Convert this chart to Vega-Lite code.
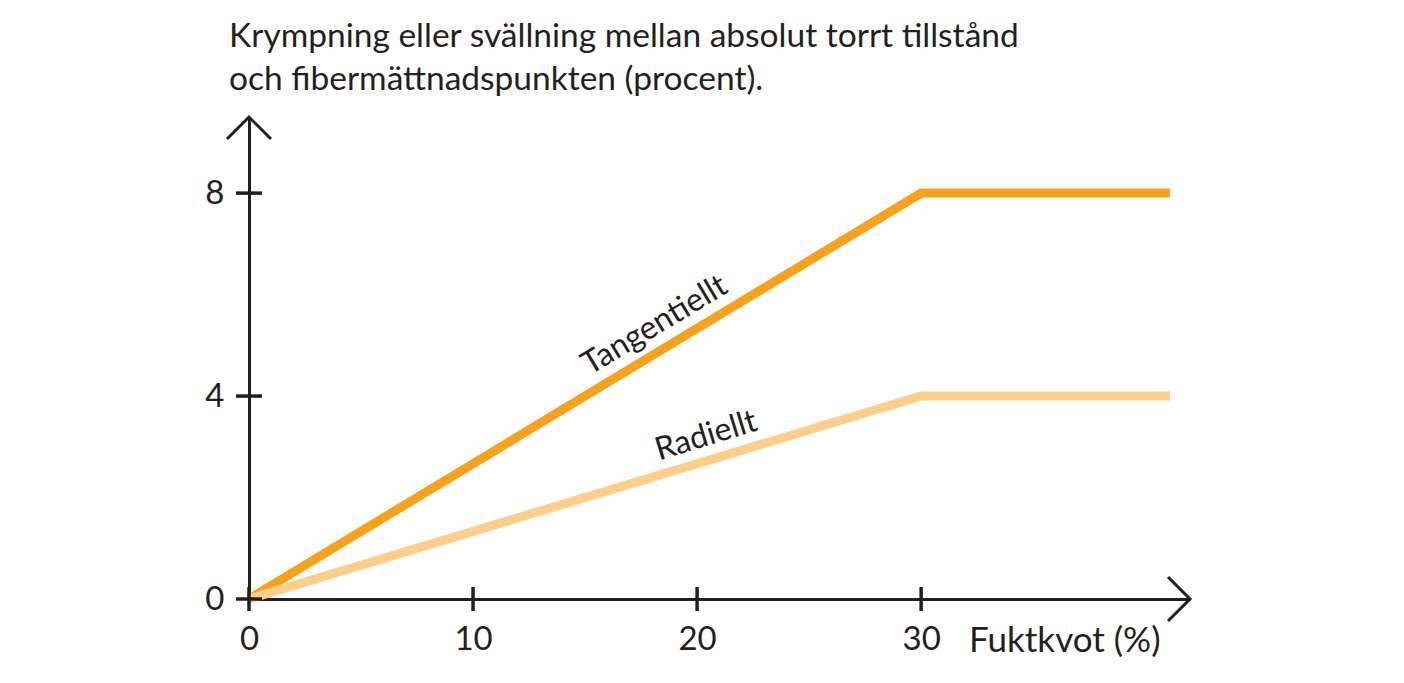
{
  "$schema": "https://vega.github.io/schema/vega-lite/v6.json",
  "width": 941,
  "height": 482,
  "autosize": "none",
  "padding": {"left": 249, "top": 117, "right": 214, "bottom": 84},
  "background": "white",
  "config": {
    "font": "Lato",
    "view": {"stroke": null},
    "axis": {"grid": false, "ticks": false, "domainColor": "#231f20", "domainWidth": 3, "labelColor": "#231f20", "labelFontSize": 33, "labelFont": "Lato"}
  },
  "title": {
    "text": ["Krympning eller svällning mellan absolut torrt tillstånd", "och fibermättnadspunkten (procent)."],
    "anchor": "start",
    "frame": "group",
    "fontSize": 33.5,
    "fontWeight": "normal",
    "color": "#231f20",
    "lineHeight": 43,
    "dx": -20,
    "offset": 14
  },
  "datasets": {
    "lines": [
      {"fuktkvot": 0, "krympning": 0, "serie": "Tangentiellt"},
      {"fuktkvot": 30, "krympning": 8, "serie": "Tangentiellt"},
      {"fuktkvot": 41.1, "krympning": 8, "serie": "Tangentiellt"},
      {"fuktkvot": 0, "krympning": 0, "serie": "Radiellt"},
      {"fuktkvot": 30, "krympning": 4, "serie": "Radiellt"},
      {"fuktkvot": 41.1, "krympning": 4, "serie": "Radiellt"}
    ],
    "xticks": [{"fuktkvot": 0}, {"fuktkvot": 10}, {"fuktkvot": 20}, {"fuktkvot": 30}],
    "yticks": [{"krympning": 0}, {"krympning": 4}, {"krympning": 8}],
    "labels": [
      {"fuktkvot": 18.1, "krympning": 5.4, "text": "Tangentiellt", "angle": -31},
      {"fuktkvot": 20.4, "krympning": 3.22, "text": "Radiellt", "angle": -17}
    ]
  },
  "layer": [
    {
      "data": {"name": "lines"},
      "mark": {"type": "line", "strokeWidth": 9, "strokeCap": "butt", "strokeJoin": "miter"},
      "encoding": {
        "x": {"field": "fuktkvot", "type": "quantitative", "scale": {"domain": [0, 42], "nice": false, "zero": false},
          "axis": {"values": [0, 10, 20, 30], "labelPadding": 24, "labelAlign": "center", "title": "Fuktkvot (%)", "titleFontSize": 35, "titleFont": "Lato", "titleFontWeight": "normal", "titleColor": "#231f20", "titleAlign": "right", "titleBaseline": "alphabetic", "titleX": 911, "titleY": 52}},
        "y": {"field": "krympning", "type": "quantitative", "scale": {"domain": [0, 9.5], "nice": false, "zero": false},
          "axis": {"values": [0, 4, 8], "labelPadding": 25, "title": null}},
        "color": {"field": "serie", "type": "nominal", "scale": {"domain": ["Tangentiellt", "Radiellt"], "range": ["#f7a11c", "#fdcf8b"]}, "legend": null},
        "detail": {"field": "serie"}
      }
    },
    {
      "data": {"name": "xticks"},
      "mark": {"type": "tick", "orient": "vertical", "size": 24, "thickness": 3.5, "color": "#231f20", "opacity": 1},
      "encoding": {
        "x": {"field": "fuktkvot", "type": "quantitative"},
        "y": {"datum": 0, "type": "quantitative"}
      }
    },
    {
      "data": {"name": "yticks"},
      "mark": {"type": "tick", "orient": "horizontal", "size": 26, "thickness": 3.5, "color": "#231f20", "opacity": 1},
      "encoding": {
        "y": {"field": "krympning", "type": "quantitative"},
        "x": {"datum": 0, "type": "quantitative"}
      }
    },
    {
      "data": {"values": [{"fuktkvot": 42, "krympning": 0}]},
      "mark": {"type": "point", "shape": "M-1,-1L0,0L-1,1", "size": 1936, "filled": false, "stroke": "#231f20", "strokeWidth": 3, "opacity": 1},
      "encoding": {
        "x": {"field": "fuktkvot", "type": "quantitative"},
        "y": {"field": "krympning", "type": "quantitative"}
      }
    },
    {
      "data": {"values": [{"fuktkvot": 0, "krympning": 9.5}]},
      "mark": {"type": "point", "shape": "M-1,1L0,0L1,1", "size": 1936, "filled": false, "stroke": "#231f20", "strokeWidth": 3, "opacity": 1},
      "encoding": {
        "x": {"field": "fuktkvot", "type": "quantitative"},
        "y": {"field": "krympning", "type": "quantitative"}
      }
    },
    {
      "data": {"name": "labels"},
      "mark": {"type": "text", "fontSize": 32, "color": "#231f20", "align": "center", "baseline": "middle"},
      "encoding": {
        "x": {"field": "fuktkvot", "type": "quantitative"},
        "y": {"field": "krympning", "type": "quantitative"},
        "text": {"field": "text"},
        "angle": {"field": "angle", "type": "quantitative", "scale": null}
      }
    }
  ]
}
